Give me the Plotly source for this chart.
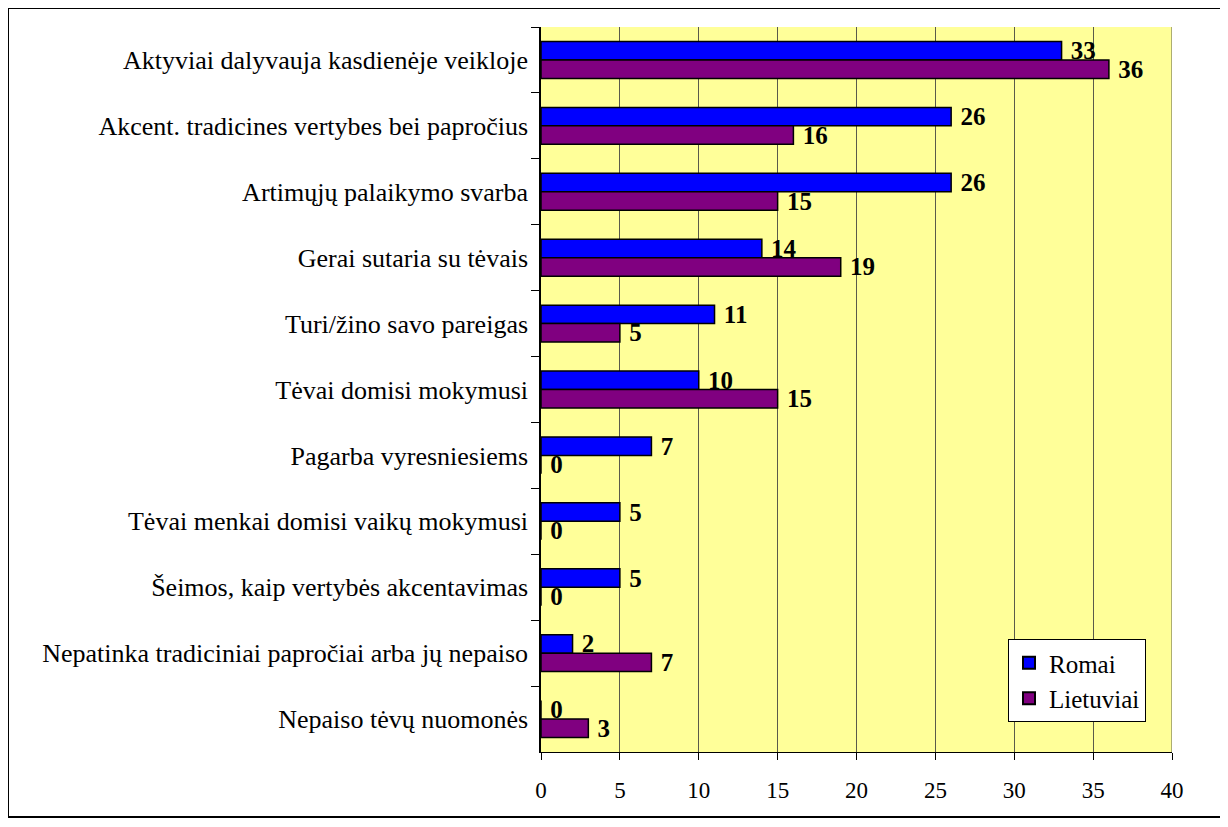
import plotly.graph_objects as go

categories = [
    "Aktyviai dalyvauja kasdienėje veikloje",
    "Akcent. tradicines vertybes bei papročius",
    "Artimųjų palaikymo svarba",
    "Gerai sutaria su tėvais",
    "Turi/žino savo pareigas",
    "Tėvai domisi mokymusi",
    "Pagarba vyresniesiems",
    "Tėvai menkai domisi vaikų mokymusi",
    "Šeimos, kaip vertybės akcentavimas",
    "Nepatinka tradiciniai papročiai arba jų nepaiso",
    "Nepaiso tėvų nuomonės",
]
romai = [33, 26, 26, 14, 11, 10, 7, 5, 5, 2, 0]
lietuviai = [36, 16, 15, 19, 5, 15, 0, 0, 0, 7, 3]
x_ticks = [0, 5, 10, 15, 20, 25, 30, 35, 40]

FONT = "Liberation Serif"
W, H = 1228, 827
OFF = 8  # page body margin
L, R, T, B = 541 - OFF, 1172 - OFF, 27 - OFF, 752 - OFF

fig = go.Figure()
for name, vals, col in [("Romai", romai, "#0000FF"), ("Lietuviai", lietuviai, "#800080")]:
    fig.add_trace(go.Bar(
        y=categories, x=vals, name=name, orientation="h",
        marker=dict(color=col, line=dict(color="black", width=1.5)),
        text=["\u00a0" + str(v) for v in vals], textposition="outside",
        constraintext="none",
        textfont=dict(family=FONT, size=25, color="black", weight="bold"),
        cliponaxis=False,
    ))

def px(x):
    return (x - OFF - L) / (R - L)

def py(y):
    return (B - (y - OFF)) / (B - T)

fig.update_layout(
    width=W, height=H,
    margin=dict(l=L, r=W - R, t=T, b=H - B, autoexpand=False),
    paper_bgcolor="white", plot_bgcolor="#FFFF99",
    barmode="group", bargap=0.44, bargroupgap=0,
    font=dict(family=FONT, size=24, color="black"),
    showlegend=True,
    legend=dict(
        x=px(1008), y=py(639), xanchor="left", yanchor="top",
        bgcolor="white", bordercolor="black", borderwidth=1,
        font=dict(family=FONT, size=25, color="black"),
        itemsizing="constant", tracegroupgap=6,
    ),
    xaxis=dict(
        range=[0, 40], tickvals=x_ticks, ticktext=[str(v) for v in x_ticks],
        showgrid=True, gridcolor="#5a5a4a", gridwidth=1,
        showline=True, linecolor="black", linewidth=1,
        ticks="outside", ticklen=7, tickcolor="black",
        tickfont=dict(family=FONT, size=23), zeroline=False,
        ticklabelstandoff=10,
    ),
    yaxis=dict(
        autorange="reversed", showline=True, linecolor="black", linewidth=1.5,
        ticks="outside", ticklen=8, tickcolor="black", tickson="boundaries",
        tickfont=dict(family=FONT, size=26), ticklabelstandoff=6,
        showgrid=False,
    ),
    shapes=[
        dict(type="rect", xref="paper", yref="paper",
             x0=px(8), x1=px(1222), y0=py(817), y1=py(8),
             line=dict(color="black", width=2), fillcolor="rgba(0,0,0,0)"),
        dict(type="line", xref="x", yref="paper", x0=40, x1=40, y0=0, y1=1,
             line=dict(color="#5a5a4a", width=1)),
    ],
)

fig.write_html("out.html")
